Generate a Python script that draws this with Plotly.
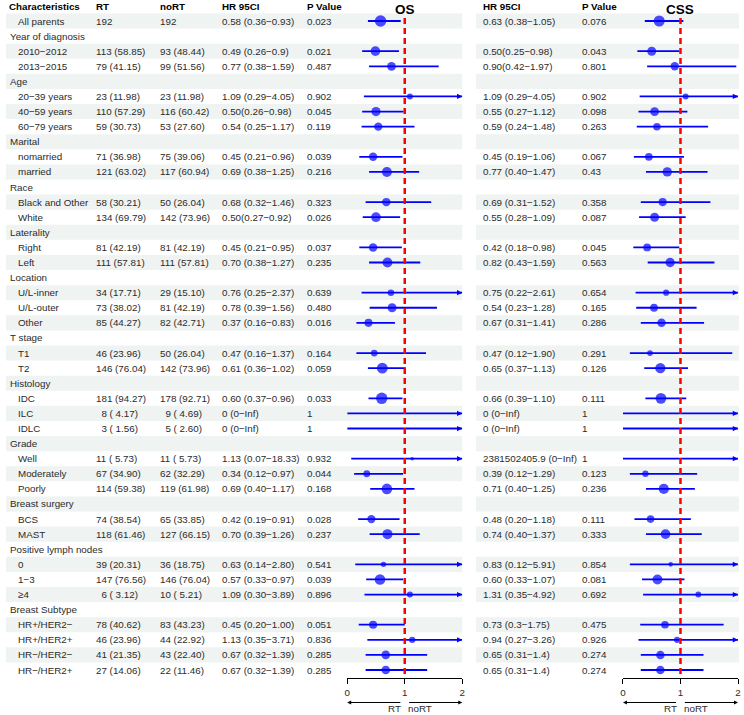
import math
import plotly.graph_objects as go

# ---------------- data ----------------
labels = ["All parents", "Year of diagnosis", "2010−2012", "2013−2015", "Age", "20−39 years", "40−59 years",
          "60−79 years", "Marital", "nomarried", "married", "Race", "Black and Other", "White", "Laterality",
          "Right", "Left", "Location", "U/L-inner", "U/L-outer", "Other", "T stage", "T1", "T2", "Histology",
          "IDC", "ILC", "IDLC", "Grade", "Well", "Moderately", "Poorly", "Breast surgery", "BCS", "MAST",
          "Positive lymph nodes", "0", "1−3", "≥4", "Breast Subtype", "HR+/HER2−", "HR+/HER2+", "HR−/HER2−",
          "HR−/HER2+"]
group_rows = ["Year of diagnosis", "Age", "Marital", "Race", "Laterality", "Location", "T stage", "Histology",
              "Grade", "Breast surgery", "Positive lymph nodes", "Breast Subtype"]

rt_n = ["192", "", "113 (58.85)", "79 (41.15)", "", "23 (11.98)", "110 (57.29)", "59 (30.73)", "",
        "71 (36.98)", "121 (63.02)", "", "58 (30.21)", "134 (69.79)", "", "81 (42.19)", "111 (57.81)", "",
        "34 (17.71)", "73 (38.02)", "85 (44.27)", "", "46 (23.96)", "146 (76.04)", "", "181 (94.27)",
        "\u00a0\u00a08 ( 4.17)", "\u00a0\u00a03 ( 1.56)", "", "11 ( 5.73)", "67 (34.90)", "114 (59.38)", "",
        "74 (38.54)", "118 (61.46)", "", "39 (20.31)", "147 (76.56)", "\u00a0\u00a06 ( 3.12)", "",
        "78 (40.62)", "46 (23.96)", "41 (21.35)", "27 (14.06)"]
nort_n = ["192", "", "93 (48.44)", "99 (51.56)", "", "23 (11.98)", "116 (60.42)", "53 (27.60)", "",
          "75 (39.06)", "117 (60.94)", "", "50 (26.04)", "142 (73.96)", "", "81 (42.19)", "111 (57.81)", "",
          "29 (15.10)", "81 (42.19)", "82 (42.71)", "", "50 (26.04)", "142 (73.96)", "", "178 (92.71)",
          "\u00a0\u00a09 ( 4.69)", "\u00a0\u00a05 ( 2.60)", "", "11 ( 5.73)", "62 (32.29)", "119 (61.98)", "",
          "65 (33.85)", "127 (66.15)", "", "36 (18.75)", "146 (76.04)", "10 ( 5.21)", "",
          "83 (43.23)", "44 (22.92)", "43 (22.40)", "22 (11.46)"]

os_txt = ["0.58 (0.36−0.93)", "", "0.49 (0.26−0.9)", "0.77 (0.38−1.59)", "", "1.09 (0.29−4.05)",
          "0.50(0.26−0.98)", "0.54 (0.25−1.17)", "", "0.45 (0.21−0.96)", "0.69 (0.38−1.25)", "",
          "0.68 (0.32−1.46)", "0.50(0.27−0.92)", "", "0.45 (0.21−0.95)", "0.70 (0.38−1.27)", "",
          "0.76 (0.25−2.37)", "0.78 (0.39−1.56)", "0.37 (0.16−0.83)", "", "0.47 (0.16−1.37)",
          "0.61 (0.36−1.02)", "", "0.60 (0.37−0.96)", "0 (0−Inf)", "0 (0−Inf)", "", "1.13 (0.07−18.33)",
          "0.34 (0.12−0.97)", "0.69 (0.40−1.17)", "", "0.42 (0.19−0.91)", "0.70 (0.39−1.26)", "",
          "0.63 (0.14−2.80)", "0.57 (0.33−0.97)", "1.09 (0.30−3.89)", "", "0.45 (0.20−1.00)",
          "1.13 (0.35−3.71)", "0.67 (0.32−1.39)", "0.67 (0.32−1.39)"]
os_p = ["0.023", "", "0.021", "0.487", "", "0.902", "0.045", "0.119", "", "0.039", "0.216", "", "0.323",
        "0.026", "", "0.037", "0.235", "", "0.639", "0.480", "0.016", "", "0.164", "0.059", "", "0.033", "1",
        "1", "", "0.932", "0.044", "0.168", "", "0.028", "0.237", "", "0.541", "0.039", "0.896", "", "0.051",
        "0.836", "0.285", "0.285"]
os_est = [0.58, None, 0.49, 0.77, None, 1.09, 0.50, 0.54, None, 0.45, 0.69, None, 0.68, 0.50, None, 0.45, 0.70,
          None, 0.76, 0.78, 0.37, None, 0.47, 0.61, None, 0.60, 0, 0, None, 1.13, 0.34, 0.69, None, 0.42, 0.70,
          None, 0.63, 0.57, 1.09, None, 0.45, 1.13, 0.67, 0.67]
os_lo = [0.36, None, 0.26, 0.38, None, 0.29, 0.26, 0.25, None, 0.21, 0.38, None, 0.32, 0.27, None, 0.21, 0.38,
         None, 0.25, 0.39, 0.16, None, 0.16, 0.36, None, 0.37, 0, 0, None, 0.07, 0.12, 0.40, None, 0.19, 0.39,
         None, 0.14, 0.33, 0.30, None, 0.20, 0.35, 0.32, 0.32]
os_hi = [0.93, None, 0.9, 1.59, None, 4.05, 0.98, 1.17, None, 0.96, 1.25, None, 1.46, 0.92, None, 0.95, 1.27,
         None, 2.37, 1.56, 0.83, None, 1.37, 1.02, None, 0.96, math.inf, math.inf, None, 18.33, 0.97, 1.17, None,
         0.91, 1.26, None, 2.80, 0.97, 3.89, None, 1.00, 3.71, 1.39, 1.39]

css_txt = ["0.63 (0.38−1.05)", "", "0.50(0.25−0.98)", "0.90(0.42−1.97)", "", "1.09 (0.29−4.05)",
           "0.55 (0.27−1.12)", "0.59 (0.24−1.48)", "", "0.45 (0.19−1.06)", "0.77 (0.40−1.47)", "",
           "0.69 (0.31−1.52)", "0.55 (0.28−1.09)", "", "0.42 (0.18−0.98)", "0.82 (0.43−1.59)", "",
           "0.75 (0.22−2.61)", "0.54 (0.23−1.28)", "0.67 (0.31−1.41)", "", "0.47 (0.12−1.90)",
           "0.65 (0.37−1.13)", "", "0.66 (0.39−1.10)", "0 (0−Inf)", "0 (0−Inf)", "", "2381502405.9 (0−Inf)",
           "0.39 (0.12−1.29)", "0.71 (0.40−1.25)", "", "0.48 (0.20−1.18)", "0.74 (0.40−1.37)", "",
           "0.83 (0.12−5.91)", "0.60 (0.33−1.07)", "1.31 (0.35−4.92)", "", "0.73 (0.3−1.75)",
           "0.94 (0.27−3.26)", "0.65 (0.31−1.4)", "0.65 (0.31−1.4)"]
css_p = ["0.076", "", "0.043", "0.801", "", "0.902", "0.098", "0.263", "", "0.067", "0.43", "", "0.358", "0.087",
         "", "0.045", "0.563", "", "0.654", "0.165", "0.286", "", "0.291", "0.126", "", "0.111", "1", "1", "",
         "1", "0.123", "0.236", "", "0.111", "0.333", "", "0.854", "0.081", "0.692", "", "0.475", "0.926",
         "0.274", "0.274"]
css_est = [0.63, None, 0.50, 0.90, None, 1.09, 0.55, 0.59, None, 0.45, 0.77, None, 0.69, 0.55, None, 0.42, 0.82,
           None, 0.75, 0.54, 0.67, None, 0.47, 0.65, None, 0.66, 0, 0, None, 2381502405.9, 0.39, 0.71, None, 0.48,
           0.74, None, 0.83, 0.60, 1.31, None, 0.73, 0.94, 0.65, 0.65]
css_lo = [0.38, None, 0.25, 0.42, None, 0.29, 0.27, 0.24, None, 0.19, 0.40, None, 0.31, 0.28, None, 0.18, 0.43,
          None, 0.22, 0.23, 0.31, None, 0.12, 0.37, None, 0.39, 0, 0, None, 0, 0.12, 0.40, None, 0.20, 0.40,
          None, 0.12, 0.33, 0.35, None, 0.3, 0.27, 0.31, 0.31]
css_hi = [1.05, None, 0.98, 1.97, None, 4.05, 1.12, 1.48, None, 1.06, 1.47, None, 1.52, 1.09, None, 0.98, 1.59,
          None, 2.61, 1.28, 1.41, None, 1.90, 1.13, None, 1.10, math.inf, math.inf, None, math.inf, 1.29, 1.25,
          None, 1.18, 1.37, None, 5.91, 1.07, 4.92, None, 1.75, 3.26, 1.4, 1.4]

x_ticks = [0, 1, 2]
headers_left = ["Characteristics", "RT", "noRT", "HR 95CI", "P Value"]
headers_right = ["HR 95CI", "P Value"]
panel_titles = ["OS", "CSS"]
direction_labels = ["RT", "noRT"]

# ---------------- layout geometry ----------------
W, H = 744, 715
ROW0_PX, ROW_H = 21.0, 15.093
AXIS_PX = 678.0


def px_to_row(p):
    return 1 + (p - ROW0_PX) / ROW_H


n = len(labels)
rows = list(range(1, n + 1))
TXT = "#2b2b2b"
FONT = "Liberation Sans, Arial, sans-serif"
FS = 9.8

fig = go.Figure()
shapes = []
annotations = []

# Invisible trace to establish the base (x, y) subplot
fig.add_trace(go.Scatter(x=[0, W], y=[px_to_row(0), px_to_row(H)], mode="markers",
                         marker=dict(opacity=0), hoverinfo="skip", showlegend=False))

# background stripes
for r in rows:
    if r % 2 == 1:
        for (a, b) in [(3, 463), (477, 742)]:
            shapes.append(dict(type="rect", xref="x", yref="y", x0=a, x1=b, y0=r - 0.5, y1=r + 0.5,
                               fillcolor="#eff3f2", line=dict(width=0), layer="below"))


def add_text(x, r, s, bold=False, size=FS, color=TXT, anchor="left"):
    if s == "":
        return
    annotations.append(dict(xref="x", yref="y", x=x, y=r, text=("<b>%s</b>" % s) if bold else s,
                            showarrow=False, xanchor=anchor, yanchor="middle", borderpad=0,
                            font=dict(family=FONT, size=size, color=color)))


# headers
for x, h in zip([5, 93, 157, 220, 305], headers_left):
    add_text(x, px_to_row(6), h, bold=True, color="black")
for x, h in zip([483, 583], headers_right):
    add_text(x, px_to_row(6), h, bold=True, color="black")

# table body
for i, r in enumerate(rows):
    lab = labels[i]
    add_text(6 if lab in group_rows else 14, r, lab)
    add_text(93, r, rt_n[i])
    add_text(157, r, nort_n[i])
    add_text(220, r, os_txt[i])
    add_text(305, r, os_p[i])
    add_text(483, r, css_txt[i])
    add_text(583, r, css_p[i])

y_lo = px_to_row(AXIS_PX)
y_top = px_to_row(0)

panels = [("x2", "y2", os_est, os_lo, os_hi),
          ("x3", "y2", css_est, css_lo, css_hi)]

BLUE = "#0000ff"
for pi, (xa, ya, est, lo, hi) in enumerate(panels):
    lx, ly, mx, my, ms = [], [], [], [], []
    for i, r in enumerate(rows):
        if est[i] is None:
            continue
        a = max(lo[i], 0)
        b = min(hi[i], 2)
        lx += [a, b, None]
        ly += [r, r, None]
        if hi[i] > 2:
            annotations.append(dict(xref=xa, yref=ya, x=2, y=r, axref=xa, ayref=ya, ax=1.9, ay=r,
                                    showarrow=True, arrowhead=2, arrowsize=0.7, arrowwidth=1.5,
                                    arrowcolor=BLUE, text="", standoff=0))
        if lo[i] > 0 and math.isfinite(hi[i]) and 0 <= est[i] <= 2:
            w = math.log(hi[i] / lo[i])
            mx.append(est[i])
            my.append(r)
            ms.append(11.5 * (0.949 / w) ** 0.65)
    fig.add_trace(go.Scatter(x=lx, y=ly, xaxis=xa, yaxis=ya, mode="lines",
                             line=dict(color=BLUE, width=1.8), hoverinfo="skip", showlegend=False))
    fig.add_trace(go.Scatter(x=mx, y=my, xaxis=xa, yaxis=ya, mode="markers",
                             marker=dict(color=BLUE, size=ms, line=dict(width=0)),
                             hoverinfo="skip", showlegend=False))
    # reference line at HR = 1
    shapes.append(dict(type="line", xref=xa, yref=ya, x0=1, x1=1, y0=0.8, y1=y_lo,
                       line=dict(color="#ff0000", width=2.5, dash="6px,4px")))
    # panel title
    annotations.append(dict(xref=xa, yref="y", x=1, y=px_to_row(0.5), text="<b>%s</b>" % panel_titles[pi],
                            showarrow=False, xanchor="center", yanchor="top", borderpad=0,
                            font=dict(family=FONT, size=13.5, color="black")))
    # direction arrows
    ya_arrow = px_to_row(702.5)
    annotations.append(dict(xref=xa, yref="y", x=0, y=ya_arrow, axref=xa, ayref="y", ax=0.95, ay=ya_arrow,
                            showarrow=True, arrowhead=2, arrowsize=0.8, arrowwidth=1, arrowcolor="black",
                            text="", standoff=0))
    annotations.append(dict(xref=xa, yref="y", x=2, y=ya_arrow, axref=xa, ayref="y", ax=1.05, ay=ya_arrow,
                            showarrow=True, arrowhead=2, arrowsize=0.8, arrowwidth=1, arrowcolor="black",
                            text="", standoff=0))
    yl = px_to_row(715)
    annotations.append(dict(xref=xa, yref="y", x=0.96, y=yl, text=direction_labels[0], showarrow=False,
                            xanchor="right", yanchor="bottom", borderpad=0,
                            font=dict(family=FONT, size=FS, color=TXT)))
    annotations.append(dict(xref=xa, yref="y", x=1.04, y=yl, text=direction_labels[1], showarrow=False,
                            xanchor="left", yanchor="bottom", borderpad=0,
                            font=dict(family=FONT, size=FS, color=TXT)))

axis_common = dict(range=[0, 2], tickvals=x_ticks, ticktext=[str(t) for t in x_ticks], showgrid=False,
                   zeroline=False, showline=True, linecolor="black", linewidth=1, ticks="outside",
                   ticklen=5, tickwidth=1, tickcolor="black", tickfont=dict(family=FONT, size=FS, color=TXT),
                   fixedrange=True)

fig.update_layout(
    width=W, height=H, autosize=False,
    margin=dict(l=0, r=0, t=0, b=0, pad=0),
    paper_bgcolor="white", plot_bgcolor="rgba(0,0,0,0)",
    showlegend=False,
    xaxis=dict(range=[0, W], domain=[0, 1], visible=False, fixedrange=True),
    yaxis=dict(range=[px_to_row(H), px_to_row(0)], domain=[0, 1], visible=False, fixedrange=True),
    xaxis2=dict(domain=[347 / W, 463 / W], anchor="y2", **axis_common),
    xaxis3=dict(domain=[625 / W, 741 / W], anchor="y2", **axis_common),
    yaxis2=dict(domain=[1 - AXIS_PX / H, 1], range=[y_lo, y_top], visible=False, fixedrange=True,
                anchor="x2"),
    shapes=shapes,
    annotations=annotations,
)

fig.write_html("out.html")
